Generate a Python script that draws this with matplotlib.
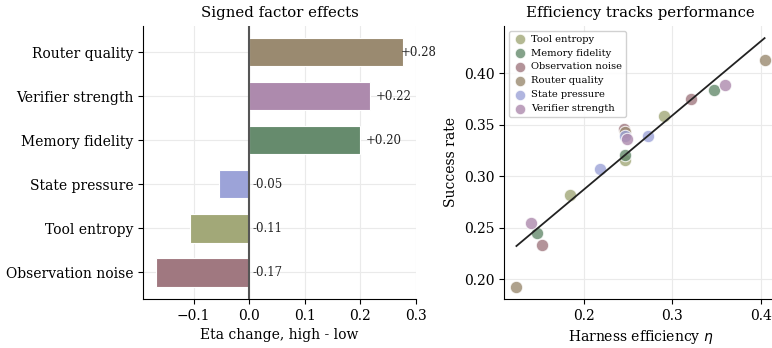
import numpy as np
import matplotlib
matplotlib.use("Agg")
import matplotlib.pyplot as plt

plt.rcParams['font.family'] = ['DejaVu Serif']

# Left panel: signed factor effects (high - low eta change)
bar_factors = ["Observation noise", "Tool entropy", "State pressure",
               "Memory fidelity", "Verifier strength", "Router quality"]
bar_values = [-0.168, -0.106, -0.054, 0.200, 0.217, 0.277]

# Right panel: efficiency vs success per factor (low, mid, high levels)
factor_names = ["Tool entropy", "Memory fidelity", "Observation noise",
                "Router quality", "State pressure", "Verifier strength"]
eta_tool = [0.291, 0.246, 0.185]
sr_tool = [0.358, 0.316, 0.282]
eta_memory = [0.147, 0.247, 0.347]
sr_memory = [0.245, 0.321, 0.384]
eta_obs = [0.321, 0.245, 0.153]
sr_obs = [0.375, 0.346, 0.233]
eta_router = [0.124, 0.246, 0.404]
sr_router = [0.193, 0.343, 0.413]
eta_state = [0.273, 0.247, 0.218]
sr_state = [0.339, 0.339, 0.307]
eta_verifier = [0.140, 0.249, 0.359]
sr_verifier = [0.255, 0.336, 0.389]

colors = {
    "Tool entropy": "#a2a878",
    "Memory fidelity": "#668b6d",
    "Observation noise": "#a07880",
    "Router quality": "#9a8a70",
    "State pressure": "#9ca3d8",
    "Verifier strength": "#ad8aad",
}

fig = plt.figure(figsize=(7.72, 3.48), dpi=100)
W, H = 772, 348
ax1 = fig.add_axes([143.3 / W, 1 - 299 / H, (416 - 143.3) / W, (299 - 25.7) / H])
ax2 = fig.add_axes([504 / W, 1 - 299 / H, (777 - 504) / W, (299 - 25.7) / H])

# ---- Left panel
ypos = np.arange(len(bar_factors))
ax1.barh(ypos, bar_values, height=0.64,
         color=[colors[f] for f in bar_factors], edgecolor='white', linewidth=0.8, zorder=2)
ax1.axvline(0, color='#555555', linewidth=1.5, zorder=3)
ax1.set_yticks(ypos)
ax1.set_yticklabels(bar_factors, fontsize=10)
for y, v in zip(ypos, bar_values):
    x = min(v + 0.01, 0.272) if v > 0 else 0.006
    ax1.text(x, y, f"{v:+.2f}", va='center', ha='left', fontsize=8.5, color='#222222', zorder=4)
ax1.set_xlabel("Eta change, high - low", fontsize=10)
ax1.set_title("Signed factor effects", fontsize=10.75)
ax1.set_xticks([-0.1, 0.0, 0.1, 0.2, 0.3])
ax1.tick_params(axis='x', labelsize=10)
ax1.grid(True, color='#eaeaea', linewidth=0.8, zorder=0)
ax1.set_axisbelow(True)
for s in ['top', 'right']:
    ax1.spines[s].set_visible(False)

# ---- Right panel
series = [
    ("Tool entropy", eta_tool, sr_tool),
    ("Memory fidelity", eta_memory, sr_memory),
    ("Observation noise", eta_obs, sr_obs),
    ("Router quality", eta_router, sr_router),
    ("State pressure", eta_state, sr_state),
    ("Verifier strength", eta_verifier, sr_verifier),
]
all_x, all_y = [], []
for name, ex, sy in series:
    ax2.scatter(ex, sy, s=80, color=colors[name], alpha=0.8, edgecolor='white',
                linewidth=0.8, label=name, zorder=3)
    all_x += ex
    all_y += sy
all_x = np.array(all_x)
all_y = np.array(all_y)
k, b = np.polyfit(all_x, all_y, 1)
xs = np.array([all_x.min(), all_x.max()])
ax2.plot(xs, k * xs + b, color='#222222', linewidth=1.3, zorder=4)
ax2.set_xlabel(r"Harness efficiency $\eta$", fontsize=10)
ax2.set_ylabel("Success rate", fontsize=10)
ax2.set_title("Efficiency tracks performance", fontsize=10.75)
ax2.tick_params(labelsize=10)
ax2.grid(True, color='#eaeaea', linewidth=0.8, zorder=0)
ax2.set_axisbelow(True)
for s in ['top', 'right']:
    ax2.spines[s].set_visible(False)
ax2.legend(loc='upper left', fontsize=7.1, handletextpad=0.4, borderpad=0.4,
           labelspacing=0.5, handlelength=1.4, frameon=True, framealpha=0.9,
           markerscale=0.85)

fig.savefig("out.png", dpi=100)
